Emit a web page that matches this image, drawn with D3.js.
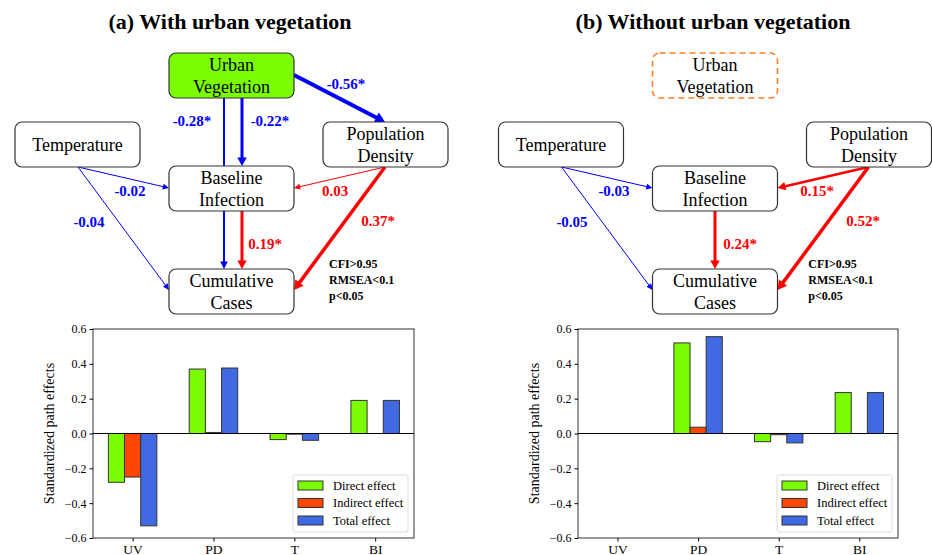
<!DOCTYPE html>
<html>
<head>
<meta charset="utf-8">
<script src="https://cdn.jsdelivr.net/npm/d3@7"></script>
<style>
  body { margin: 0; background: #fff; }
</style>
</head>
<body>
<div id="chart"></div>
<script>
// ---- data ----
const panelTitles = ["(a) With urban vegetation", "(b) Without urban vegetation"];
const categories = ["UV", "PD", "T", "BI"];
const effectNames = ["Direct effect", "Indirect effect", "Total effect"];
const directA   = [-0.28, 0.37, -0.035, 0.19];
const indirectA = [-0.25, 0.006, -0.004, 0.0];
const totalA    = [-0.53, 0.376, -0.039, 0.19];
const directB   = [0.0, 0.52, -0.047, 0.235];
const indirectB = [0.0, 0.036, -0.007, 0.0];
const totalB    = [0.0, 0.556, -0.054, 0.235];
const yTickValues = [-0.6, -0.4, -0.2, 0.0, 0.2, 0.4, 0.6];

const nodeLabels = {
  UV: ["Urban", "Vegetation"], T: ["Temperature"], PD: ["Population", "Density"],
  BI: ["Baseline", "Infection"], CC: ["Cumulative", "Cases"]
};
const pathLabelsA = {"UV-PD": "-0.56*", "UV-CC": "-0.28*", "UV-BI": "-0.22*", "T-BI": "-0.02",
  "T-CC": "-0.04", "PD-BI": "0.03", "PD-CC": "0.37*", "BI-CC": "0.19*"};
const pathLabelsB = {"T-BI": "-0.03", "T-CC": "-0.05", "PD-BI": "0.15*", "PD-CC": "0.52*", "BI-CC": "0.24*"};
const fitStats = ["CFI>0.95", "RMSEA<0.1", "p<0.05"];

// ---- layout ----
const W = 932, H = 555;
const FONT = "Liberation Serif";
const effectColors = ["#7CFC00", "#FF4500", "#4169E1"];
const BLUE = "#0000FF", RED = "#FF0000";
const boxW = 125, boxH = 45;
const nodeBox = {UV: [169, 53], T: [15, 122], PD: [323, 122], BI: [169, 166], CC: [169, 269]};

const geomA = {
  "UV-PD": {p: [[294, 75], [385, 122]], w: 4, lab: [346, 84]},
  "UV-CC": {p: [[224, 98], [224, 269]], w: 2, lab: [192, 121]},
  "UV-BI": {p: [[242, 98], [242, 166]], w: 3, lab: [270, 121]},
  "T-BI":  {p: [[78, 167], [169, 188]], w: 1, lab: [130, 191]},
  "T-CC":  {p: [[78, 167], [169, 290]], w: 1, lab: [89, 222]},
  "PD-BI": {p: [[385, 167], [294, 188]], w: 1, lab: [335, 191]},
  "PD-CC": {p: [[385, 167], [294, 290]], w: 3.5, lab: [378, 221]},
  "BI-CC": {p: [[242, 211], [242, 269]], w: 3, lab: [265, 244]}
};
const geomB = {
  "T-BI":  {p: [[78, 167], [169, 188]], w: 1, lab: [130.5, 191]},
  "T-CC":  {p: [[78, 167], [169, 290]], w: 1, lab: [88.5, 222]},
  "PD-BI": {p: [[385, 167], [294, 188]], w: 2.5, lab: [333.5, 191]},
  "PD-CC": {p: [[385, 167], [294, 290]], w: 3.5, lab: [379.5, 221]},
  "BI-CC": {p: [[231.5, 211], [231.5, 269]], w: 3, lab: [256.5, 244]}
};

const svg = d3.select("#chart").append("svg")
  .attr("width", W).attr("height", H)
  .attr("font-family", FONT);

// arrow as line + filled head
function drawArrow(g, p1, p2, color, w) {
  const dx = p2[0] - p1[0], dy = p2[1] - p1[1];
  const L = Math.hypot(dx, dy), ux = dx / L, uy = dy / L;
  const hl = 5 + 1.2 * w, hw = 2 + 0.9 * w;
  const bx = p2[0] - ux * hl, by = p2[1] - uy * hl;
  g.append("line")
    .attr("x1", p1[0]).attr("y1", p1[1])
    .attr("x2", bx + ux).attr("y2", by + uy)
    .attr("stroke", color).attr("stroke-width", w);
  g.append("polygon")
    .attr("points", [[p2[0], p2[1]], [bx - uy * hw, by + ux * hw], [bx + uy * hw, by - ux * hw]].join(" "))
    .attr("fill", color);
}

function drawDiagram(offsetX, labels, geom, withUV, statsX, title, titleX) {
  const g = svg.append("g").attr("transform", `translate(${offsetX},0)`);

  svg.append("text")
    .attr("x", titleX).attr("y", 29)
    .attr("text-anchor", "middle")
    .attr("font-family", FONT)
    .style("font-size", "22px").style("font-weight", "bold")
    .text(title);

  // edges (behind boxes)
  Object.keys(labels).forEach(k => {
    const e = geom[k];
    const color = labels[k].startsWith("-") ? BLUE : RED;
    drawArrow(g, e.p[0], e.p[1], color, e.w);
  });

  // boxes
  Object.keys(nodeBox).forEach(id => {
    const [x, y] = nodeBox[id];
    const isUV = id === "UV";
    g.append("rect")
      .attr("x", x).attr("y", y).attr("width", boxW).attr("height", boxH)
      .attr("rx", 7).attr("ry", 7)
      .attr("fill", isUV && withUV ? "#7CFC00" : "#fff")
      .attr("stroke", isUV && !withUV ? "#FF7F27" : "#333")
      .attr("stroke-width", isUV && !withUV ? 1.6 : 1.2)
      .attr("stroke-dasharray", isUV && !withUV ? "6,4" : null);
    const lines = nodeLabels[id];
    const cy = y + boxH / 2;
    lines.forEach((t, i) => {
      g.append("text")
        .attr("x", x + boxW / 2)
        .attr("y", cy + (i - (lines.length - 1) / 2) * 22)
        .attr("dy", "0.35em")
        .attr("text-anchor", "middle")
        .attr("font-family", FONT)
        .style("font-size", "18px")
        .text(t);
    });
  });

  // path coefficient labels
  Object.keys(labels).forEach(k => {
    const e = geom[k];
    const color = labels[k].startsWith("-") ? BLUE : RED;
    g.append("text")
      .attr("x", e.lab[0]).attr("y", e.lab[1])
      .attr("dy", "0.35em")
      .attr("text-anchor", "middle")
      .attr("fill", color)
      .attr("font-family", FONT)
      .style("font-size", "15px").style("font-weight", "bold")
      .text(labels[k]);
  });

  fitStats.forEach((t, i) => {
    g.append("text")
      .attr("x", statsX).attr("y", 268 + i * 16)
      .attr("font-family", FONT)
      .style("font-size", "12px").style("font-weight", "bold")
      .text(t);
  });
}

drawDiagram(0, pathLabelsA, geomA, true, 329, panelTitles[0], 230);
drawDiagram(483.5, pathLabelsB, geomB, false, 324.8, panelTitles[1], 713);

// ---- bar charts ----
function drawBars(left, right, direct, indirect, total) {
  const top = 329, bottom = 538;
  const x = d3.scaleLinear().domain([-0.49, 3.48]).range([left, right]);
  const y = d3.scaleLinear().domain([-0.6, 0.6]).range([bottom, top]);
  const g = svg.append("g");
  const series = [direct, indirect, total];
  const bw = 0.2;

  series.forEach((vals, s) => {
    g.append("g").selectAll("rect")
      .data(vals)
      .enter().append("rect")
        .attr("x", (d, i) => x(i + (s - 1) * bw - bw / 2))
        .attr("width", x(bw) - x(0))
        .attr("y", d => y(Math.max(0, d)))
        .attr("height", d => Math.abs(y(d) - y(0)))
        .attr("fill", effectColors[s])
        .attr("stroke", "#333")
        .attr("stroke-width", 1);
  });

  // zero line
  g.append("line")
    .attr("x1", left).attr("x2", right)
    .attr("y1", y(0)).attr("y2", y(0))
    .attr("stroke", "#000").attr("stroke-width", 1);

  // axes
  const yAxis = d3.axisLeft(y).tickValues(yTickValues).tickSizeOuter(0).tickSize(3.5).tickPadding(3)
    .tickFormat(d => d3.format(".1f")(d).replace("-", "\u2212"));
  const xAxis = d3.axisBottom(x).tickValues(d3.range(categories.length)).tickSizeOuter(0).tickSize(3.5).tickPadding(3)
    .tickFormat(i => categories[i]);

  const ya = g.append("g").attr("transform", `translate(${left},0)`).call(yAxis)
    .attr("font-family", FONT);
  ya.select(".domain").remove();
  ya.selectAll("text").style("font-size", "12px").attr("fill", "#000");
  const xa = g.append("g").attr("transform", `translate(0,${bottom})`).call(xAxis)
    .attr("font-family", FONT);
  xa.select(".domain").remove();
  xa.selectAll("text").style("font-size", "13.5px").attr("fill", "#000");

  // frame
  g.append("rect")
    .attr("x", left).attr("y", top).attr("width", right - left).attr("height", bottom - top)
    .attr("fill", "none").attr("stroke", "#000").attr("stroke-width", 0.8);

  // y label
  g.append("text")
    .attr("transform", `translate(${left - 39},${(top + bottom) / 2}) rotate(-90)`)
    .attr("text-anchor", "middle")
    .attr("font-family", FONT)
    .style("font-size", "14px")
    .text("Standardized path effects");

  // legend
  const lx = right - 121, ly = 475;
  const lg = g.append("g").attr("transform", `translate(${lx},${ly})`);
  lg.append("rect")
    .attr("width", 115).attr("height", 57).attr("rx", 2.5)
    .attr("fill", "#fff").attr("fill-opacity", 0.8)
    .attr("stroke", "#d0d0d0").attr("stroke-width", 0.8);
  effectNames.forEach((name, i) => {
    lg.append("rect")
      .attr("x", 5).attr("y", 6 + i * 17.5).attr("width", 25).attr("height", 9)
      .attr("fill", effectColors[i]).attr("stroke", "#333").attr("stroke-width", 1);
    lg.append("text")
      .attr("x", 40).attr("y", 10.5 + i * 17.5)
      .attr("dy", "0.35em")
      .attr("font-family", FONT)
      .style("font-size", "12.5px")
      .text(name);
  });
}

drawBars(93, 414, directA, indirectA, totalA);
drawBars(578, 898, directB, indirectB, totalB);
</script>
</body>
</html>
